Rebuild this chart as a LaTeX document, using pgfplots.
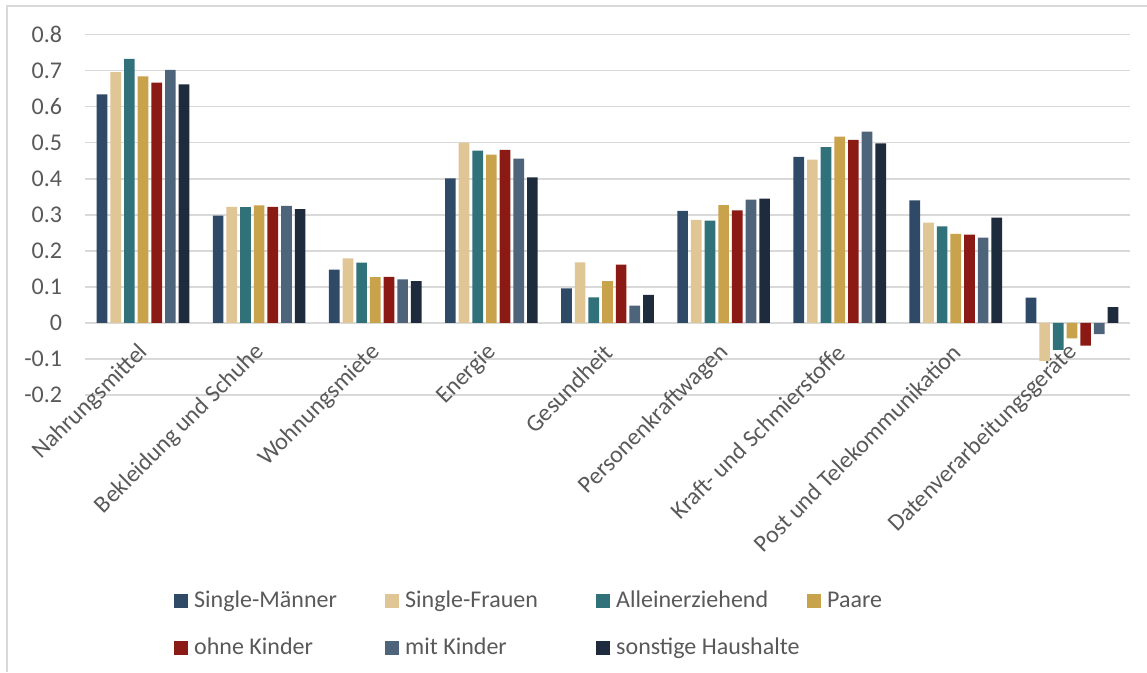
\documentclass[border=0pt]{standalone}
\usepackage{pgfplots}
\pgfplotsset{compat=1.18}
\usepackage{fontspec}
\setmainfont{Carlito}
\definecolor{cA}{HTML}{2E4A66}
\definecolor{cB}{HTML}{E0C595}
\definecolor{cC}{HTML}{31727A}
\definecolor{cD}{HTML}{C9A24C}
\definecolor{cE}{HTML}{8B1914}
\definecolor{cF}{HTML}{4E647B}
\definecolor{cG}{HTML}{1E2B3C}
\definecolor{gridc}{HTML}{D9D9D9}
\definecolor{textc}{HTML}{595959}
\begin{document}
\fontsize{18}{21.6}\selectfont
\begin{tikzpicture}
\useasboundingbox (-63.75pt,-207.75pt) rectangle (796.5pt,296.25pt);
\draw[gridc, line width=1pt] (-58.5pt,-207.75pt) -- (-58.5pt,291.75pt) -- (796.5pt,291.75pt);
\begin{axis}[
  at={(0pt,0pt)}, anchor=south west,
  scale only axis, width=783.75pt, height=270.3pt,
  xmin=-0.5, xmax=8.5, ymin=-0.2, ymax=0.8,
  ybar=2.25pt, bar width=8pt,
  axis x line=middle, axis y line=left,
  axis line style={draw=none},
  major tick length=0pt,
  ytick={-0.2,-0.1,0,0.1,0.2,0.3,0.4,0.5,0.6,0.7,0.8},
  ymajorgrids, grid style={color=gridc, line width=1.1pt},
  xtick={0,1,2,3,4,5,6,7,8},
  xticklabels={Nahrungsmittel,Bekleidung und Schuhe,Wohnungsmiete,Energie,Gesundheit,Personenkraftwagen,Kraft- und Schmierstoffe,Post und Telekommunikation,Datenverarbeitungsgeräte},
  tick label style={font=\fontsize{18}{21.6}\selectfont, color=textc},
  yticklabel style={xshift=-11pt, /pgf/number format/.cd, fixed, precision=1, assume math mode=true},
  xticklabel style={xshift=5.25pt, yshift=-15pt, rotate=45, anchor=east},
  legend columns=4,
  legend cell align=left,
  legend image code/.code={\fill[#1] (0pt,-5.25pt) rectangle (10.5pt,5.25pt);},
  legend style={at={(0.0813,-0.536)}, anchor=north west, draw=none, fill=none,
    font=\fontsize{18}{21.6}\selectfont, text=textc,
    nodes={inner sep=0pt},
    /tikz/every odd column/.append style={column sep=4.5pt},
    /tikz/row sep=19.5pt},
]
\addplot[fill=cA, draw=none] coordinates {(0,0.634) (1,0.298) (2,0.148) (3,0.401) (4,0.096) (5,0.311) (6,0.461) (7,0.340) (8,0.070)};
\addlegendentry{\makebox[143.25pt][l]{Single-Männer}}
\addplot[fill=cB, draw=none] coordinates {(0,0.696) (1,0.322) (2,0.179) (3,0.500) (4,0.168) (5,0.286) (6,0.453) (7,0.278) (8,-0.105)};
\addlegendentry{\makebox[143.25pt][l]{Single-Frauen}}
\addplot[fill=cC, draw=none] coordinates {(0,0.733) (1,0.321) (2,0.167) (3,0.478) (4,0.071) (5,0.284) (6,0.488) (7,0.268) (8,-0.075)};
\addlegendentry{\makebox[143.25pt][l]{Alleinerziehend}}
\addplot[fill=cD, draw=none] coordinates {(0,0.684) (1,0.326) (2,0.127) (3,0.467) (4,0.116) (5,0.327) (6,0.517) (7,0.247) (8,-0.043)};
\addlegendentry{\makebox[143.25pt][l]{Paare}}
\addplot[fill=cE, draw=none] coordinates {(0,0.667) (1,0.322) (2,0.128) (3,0.480) (4,0.162) (5,0.312) (6,0.508) (7,0.245) (8,-0.063)};
\addlegendentry{\makebox[143.25pt][l]{ohne Kinder}}
\addplot[fill=cF, draw=none] coordinates {(0,0.702) (1,0.325) (2,0.121) (3,0.456) (4,0.048) (5,0.342) (6,0.531) (7,0.237) (8,-0.031)};
\addlegendentry{\makebox[143.25pt][l]{mit Kinder}}
\addplot[fill=cG, draw=none] coordinates {(0,0.662) (1,0.316) (2,0.116) (3,0.404) (4,0.078) (5,0.345) (6,0.498) (7,0.292) (8,0.044)};
\addlegendentry{\makebox[143.25pt][l]{sonstige Haushalte}}
\end{axis}
\end{tikzpicture}
\end{document}
